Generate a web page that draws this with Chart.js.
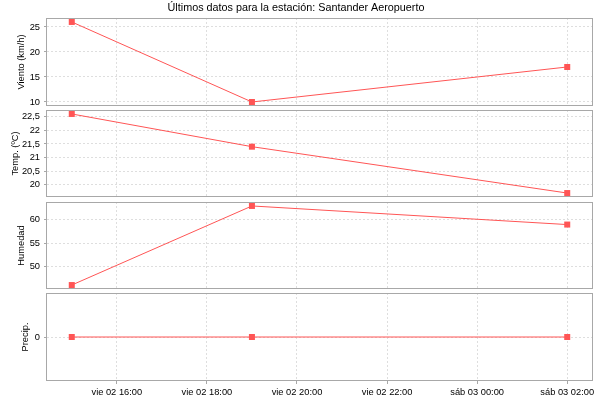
<!DOCTYPE html>
<html>
<head>
<meta charset="utf-8">
<script src="https://cdn.jsdelivr.net/npm/chart.js@4.4.0/dist/chart.umd.min.js"></script>
<style>
    body { margin: 0; background: #fff; }
    #grafico { position: relative; width: 600px; height: 400px; }
    .panel { position: absolute; left: 0; width: 600px; }
</style>
</head>
<body>
<div id="grafico">
    <div class="panel" style="top:0;height:106px"><canvas id="cViento"></canvas></div>
    <div class="panel" style="top:110px;height:87px"><canvas id="cTemp"></canvas></div>
    <div class="panel" style="top:202px;height:87px"><canvas id="cHumedad"></canvas></div>
    <div class="panel" style="top:293px;height:107px"><canvas id="cPrecip"></canvas></div>
</div>
<script>
// =============================================
// DATOS (horas contadas desde vie 02 00:00)
// =============================================
const horas = [15, 19, 26];
const viento = [26, 10, 17];
const temperatura = [22.6, 21.4, 19.7];
const humedad = [46, 63, 59];
const precipitacion = [0, 0, 0];

const tickHoras = [16, 18, 20, 22, 24, 26];
const etiquetasHoras = ['vie 02 16:00', 'vie 02 18:00', 'vie 02 20:00', 'vie 02 22:00', 'sáb 03 00:00', 'sáb 03 02:00'];
const tickViento = [10, 15, 20, 25];
const tickTemp = [20, 20.5, 21, 21.5, 22, 22.5];
const tickHumedad = [50, 55, 60];
const tickPrecip = [0];

const TITULO = 'Últimos datos para la estación: Santander Aeropuerto';

// =============================================
// ESTILO
// =============================================
const ROJO = '#FF5555';
const REJILLA = '#dedede';
const MARCO = '#a8a8a8';
const FUENTE = '"Liberation Sans", Arial, sans-serif';

// rango con 5% de margen, como el gráfico original
function rango(valores) {
    const min = Math.min(...valores), max = Math.max(...valores);
    const m = (max - min) * 0.05;
    if (m === 0) return { min: min - 1, max: max + 1 };
    return { min: min - m, max: max + m };
}
const rangoX = rango(horas);

// marco gris alrededor de cada área de dibujo
const marco = {
    id: 'marco',
    afterDraw(chart) {
        const a = chart.chartArea;
        const ctx = chart.ctx;
        ctx.save();
        ctx.strokeStyle = MARCO;
        ctx.lineWidth = 1;
        ctx.setLineDash([]);
        const x0 = Math.round(a.left) - 0.5, y0 = Math.round(a.top) + 0.5;
        const x1 = Math.round(a.right) + 0.5, y1 = Math.round(a.bottom) - 0.5;
        ctx.strokeRect(x0, y0, x1 - x0, y1 - y0);
        ctx.restore();
    }
};

function crearPanel(id, cfg) {
    const r = rango(cfg.valores);
    return new Chart(document.getElementById(id), {
        type: 'line',
        data: {
            datasets: [{
                data: horas.map((h, i) => ({ x: h, y: cfg.valores[i] })),
                borderColor: ROJO,
                backgroundColor: ROJO,
                borderWidth: 1,
                pointStyle: 'rect',
                pointRadius: 4.25,
                pointHoverRadius: 4.25,
                pointBorderWidth: 0,
                tension: 0,
                clip: false
            }]
        },
        options: {
            responsive: true,
            maintainAspectRatio: false,
            animation: false,
            events: [],
            layout: { autoPadding: false, padding: { left: 0, right: 8, top: 0, bottom: 0 } },
            plugins: {
                legend: { display: false },
                tooltip: { enabled: false },
                title: {
                    display: !!cfg.titulo,
                    text: cfg.titulo || '',
                    color: '#000',
                    font: { family: FUENTE, size: 10.8, weight: 'normal' },
                    padding: { top: 1.5, bottom: 3.5 }
                }
            },
            scales: {
                x: {
                    type: 'linear',
                    min: rangoX.min,
                    max: rangoX.max,
                    grid: { color: REJILLA, drawTicks: cfg.ejeX, tickLength: 3, tickColor: MARCO, tickBorderDash: [] },
                    border: { display: false, dash: [2, 2] },
                    ticks: {
                        display: cfg.ejeX,
                        padding: 3,
                        maxRotation: 0,
                        autoSkip: false,
                        color: '#000',
                        font: { family: FUENTE, size: 9.3 },
                        callback: v => etiquetasHoras[tickHoras.indexOf(v)]
                    },
                    afterBuildTicks: s => { s.ticks = tickHoras.map(v => ({ value: v })); },
                    afterFit: s => {
                        s.height = cfg.ejeX ? 19 : 0;
                        s.paddingLeft = 0;
                        s.paddingRight = 0;
                    }
                },
                y: {
                    min: r.min,
                    max: r.max,
                    grid: { color: REJILLA, tickLength: 3, tickColor: MARCO, tickBorderDash: [] },
                    border: { display: false, dash: [2, 2] },
                    ticks: {
                        padding: 4,
                        color: '#000',
                        font: { family: FUENTE, size: 9.3 },
                        callback: v => String(v).replace('.', ',')
                    },
                    afterBuildTicks: s => { s.ticks = cfg.ticks.map(v => ({ value: v })); },
                    title: {
                        display: true,
                        text: cfg.etiqueta,
                        color: '#000',
                        font: { family: FUENTE, size: 9.3 },
                        padding: { top: cfg.sep, bottom: 0 }
                    },
                    afterFit: s => {
                        s.width = 47;
                        s.paddingTop = 0;
                        s.paddingBottom = 0;
                    }
                }
            }
        },
        plugins: [marco]
    });
}

// =============================================
// INICIALIZAR PANELES
// =============================================
crearPanel('cViento', { valores: viento, ticks: tickViento, etiqueta: 'Viento (km/h)', sep: 16, titulo: TITULO, ejeX: false });
crearPanel('cTemp', { valores: temperatura, ticks: tickTemp, etiqueta: 'Temp. (ºC)', sep: 10, ejeX: false });
crearPanel('cHumedad', { valores: humedad, ticks: tickHumedad, etiqueta: 'Humedad', sep: 16, ejeX: false });
crearPanel('cPrecip', { valores: precipitacion, ticks: tickPrecip, etiqueta: 'Precip.', sep: 20, ejeX: true });
</script>
</body>
</html>
